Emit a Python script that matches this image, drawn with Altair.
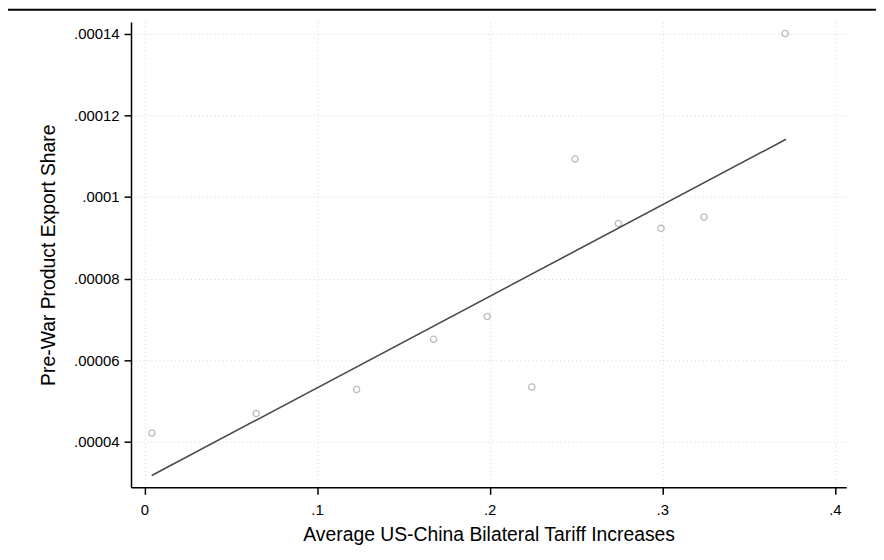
import altair as alt
import pandas as pd

# Binned scatter points
tariff = [0.0043, 0.0647, 0.1229, 0.1675, 0.1986, 0.2244, 0.2495, 0.2746, 0.2993, 0.3242, 0.3712]
share = [0.0000421, 0.0000469, 0.0000528, 0.0000651, 0.0000707, 0.0000534,
         0.0001093, 0.0000935, 0.0000923, 0.0000951, 0.0001401]

# Fitted line endpoints
fit_x = [0.0042, 0.3717]
fit_y = [0.0000317, 0.00011415]

x_ticks = [0, 0.1, 0.2, 0.3, 0.4]
y_ticks = [0.00004, 0.00006, 0.00008, 0.0001, 0.00012, 0.00014]

x_title = "Average US-China Bilateral Tariff Increases"
y_title = "Pre-War Product Export Share"

pts = pd.DataFrame({"x": tariff, "y": share})
fit = pd.DataFrame({"x": fit_x, "y": fit_y})

FONT = "Liberation Sans"
W, H = 721, 469

xscale = alt.Scale(domain=[-0.0078, 0.4066], nice=False, zero=False)
yscale = alt.Scale(domain=[0.0000288, 0.0001429], nice=False, zero=False)

xaxis = alt.Axis(
    title=x_title, values=x_ticks,
    labelExpr="replace(format(datum.value, '~f'), '0.', '.')",
    grid=True, gridDash=[1, 3], gridColor="#d6d6d6", gridWidth=1,
    domainColor="black", domainWidth=1.5, tickColor="black", tickWidth=1.5, tickSize=7,
    labelFont=FONT, labelFontSize=15, labelColor="black", labelPadding=8,
    titleFont=FONT, titleFontSize=19.5, titleFontWeight="normal", titleColor="black",
    titlePadding=9, labelFlush=False,
)
yaxis = alt.Axis(
    title=y_title, values=y_ticks,
    labelExpr="replace(format(datum.value, '~f'), '0.', '.')",
    grid=True, gridDash=[1, 3], gridColor="#d6d6d6", gridWidth=1,
    domainColor="black", domainWidth=1.5, tickColor="black", tickWidth=1.5, tickSize=7,
    labelFont=FONT, labelFontSize=15, labelColor="black", labelPadding=5,
    titleFont=FONT, titleFontSize=19.5, titleFontWeight="normal", titleColor="black",
    titlePadding=15, labelFlush=False,
)

points = alt.Chart(pts).mark_point(
    shape="circle", filled=False, color="#a0a0a0", size=40, strokeWidth=1.3
).encode(
    x=alt.X("x:Q", scale=xscale, axis=xaxis),
    y=alt.Y("y:Q", scale=yscale, axis=yaxis),
)

line = alt.Chart(fit).mark_line(color="#4a4a4a", strokeWidth=1.6).encode(
    x=alt.X("x:Q", scale=xscale),
    y=alt.Y("y:Q", scale=yscale),
)

top_rule = alt.Chart(pd.DataFrame({"a": [0]})).mark_rule(
    color="black", strokeWidth=2
).encode(
    x=alt.value(-126), x2=alt.value(760), y=alt.value(-12.5)
)

chart = alt.layer(points, line, top_rule).properties(
    width=W, height=H,
    background="white",
    autosize=alt.AutoSizeParams(type="none"),
    padding={"left": 124, "top": 12, "right": 30, "bottom": 62},
).configure_view(stroke=None)

chart.save("out.html", embed_options={"renderer": "svg", "actions": False})
